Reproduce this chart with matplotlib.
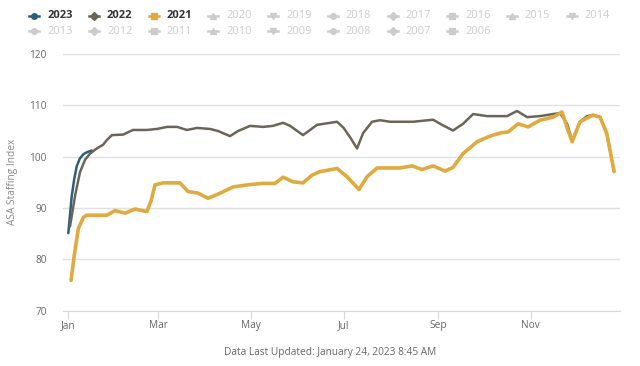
import matplotlib.pyplot as plt
from matplotlib.lines import Line2D

plt.rcParams["font.family"] = ["Open Sans", "DejaVu Sans"]

# day of year (0 = Jan 1) and ASA staffing index
dias_2023 = [0, 2.2, 3.8, 5.5, 7.5, 10, 12.5, 15.4]
valores_2023 = [85.1, 92.2, 95.5, 98.1, 99.6, 100.5, 100.9, 101.2]

dias_2022 = [1.1, 4.5, 7.7, 11, 14.3, 18.7, 22.8, 25.5, 28.7, 36, 42.5, 51.7, 58.3, 64.9,
             71.5, 78, 84.6, 93.2, 98.4, 106.3, 111.6, 119.5, 128, 134.6, 141.2, 145.8,
             154.3, 163.5, 176.7, 181, 185.2, 189.8, 193.8, 199.7, 204.9, 211.5, 226.6,
             239.8, 246.3, 252.9, 259.5, 266.1, 275.3, 288.4, 295, 301.6, 310.1, 318.7,
             323.3, 327.9, 331.2, 336.4, 341, 345, 349.6, 354, 358.8]
valores_2022 = [86.4, 92.5, 97.0, 99.4, 100.6, 101.6, 102.3, 103.3, 104.2, 104.3, 105.2,
                105.2, 105.4, 105.8, 105.8, 105.2, 105.6, 105.4, 105.0, 104.0, 105.0, 106.0,
                105.8, 106.0, 106.6, 106.0, 104.2, 106.2, 106.8, 105.6, 103.8, 101.6, 104.6,
                106.8, 107.1, 106.8, 106.8, 107.2, 106.1, 105.1, 106.4, 108.3, 107.9, 107.9,
                108.9, 107.7, 107.9, 108.3, 108.5, 106.4, 103.1, 106.8, 107.9, 108.1, 107.7,
                104.5, 97.1]

dias_2021 = [1.8, 4, 6.6, 9.9, 12.1, 20.8, 25.4, 30.7, 37.3, 43.9, 51.7, 54.5, 57, 62.3,
             73.4, 78.7, 85.3, 91.8, 98.4, 108.3, 117.5, 128, 135.9, 141.2, 147.7, 154.3,
             160.2, 165.5, 176.7, 183.2, 191.1, 196.4, 203, 218.1, 226, 232.5, 239.8,
             247.7, 252.9, 259.5, 268.7, 277.2, 285.1, 289.1, 295.7, 302.3, 310.1, 318.7,
             324.6, 328, 331.2, 336.4, 345, 349.6, 354, 358.8]
valores_2021 = [75.9, 81.0, 86.0, 88.2, 88.6, 88.6, 88.6, 89.5, 89.0, 89.8, 89.3, 91.5, 94.5,
                94.9, 94.9, 93.2, 92.9, 91.9, 92.7, 94.1, 94.5, 94.8, 94.8, 96.0, 95.1, 94.9,
                96.4, 97.1, 97.7, 96.1, 93.6, 96.1, 97.8, 97.8, 98.2, 97.5, 98.2, 97.2, 97.9,
                100.6, 102.9, 104.0, 104.7, 104.8, 106.4, 105.8, 107.1, 107.7, 108.7, 105.5,
                102.9, 106.8, 108.1, 107.7, 104.5, 97.1]

meses = ["Jan", "Mar", "May", "Jul", "Sep", "Nov"]
dias_meses = [0, 59, 120, 181, 243, 304]

anos_legenda = ["2023", "2022", "2021", "2020", "2019", "2018", "2017", "2016", "2015",
                "2014", "2013", "2012", "2011", "2010", "2009", "2008", "2007", "2006"]

cor_2023 = "#2c5f7c"
cor_2022 = "#6b6459"
cor_2021 = "#e0aa3e"
cor_oculta = "#cccccc"

fig = plt.figure(figsize=(6.4, 3.66), dpi=100)
ax = fig.add_axes([0.0989, 0.1511, 0.8699, 0.7014])

ax.plot(dias_2023, valores_2023, color=cor_2023, lw=1.8, solid_capstyle="round",
        solid_joinstyle="round", zorder=3)
ax.plot(dias_2022, valores_2022, color=cor_2022, lw=1.8, solid_capstyle="round",
        solid_joinstyle="round", zorder=4)
ax.plot(dias_2021, valores_2021, color=cor_2021, lw=2.6, solid_capstyle="round",
        solid_joinstyle="round", zorder=5)

ax.set_xlim(-3.3, 362.7)
ax.set_ylim(70, 120)
ax.set_yticks([70, 80, 90, 100, 110, 120])
ax.set_xticks(dias_meses)
ax.set_xticklabels(meses)
ax.grid(axis="y", color="#e0e0e0", lw=1)
ax.set_axisbelow(True)
for lado in ["top", "right", "left"]:
    ax.spines[lado].set_visible(False)
ax.spines["bottom"].set_color("#d8d8d8")
ax.tick_params(axis="y", length=0, pad=12, labelsize=7.3, labelcolor="#666666")
ax.tick_params(axis="x", length=6, color="#d8d8d8", pad=1, labelsize=7.3, labelcolor="#666666")
ax.set_ylabel("ASA Staffing Index", fontsize=7.3, color="#888888", labelpad=8)

# legenda manual (duas linhas, como no original)
marcadores = ["o", "D", "s", "^", "v"]
for i, ano in enumerate(anos_legenda):
    linha, col = divmod(i, 10)
    x = (34.3 + 59.7 * col) / 640
    y = 1 - (15.5 if linha == 0 else 31) / 366
    if ano == "2023":
        cor, peso = cor_2023, "bold"
    elif ano == "2022":
        cor, peso = cor_2022, "bold"
    elif ano == "2021":
        cor, peso = cor_2021, "bold"
    else:
        cor, peso = cor_oculta, "normal"
    fig.add_artist(Line2D([x - 5 / 640, x + 5 / 640], [y, y], color=cor, lw=1.8,
                          transform=fig.transFigure))
    fig.add_artist(Line2D([x], [y], marker=marcadores[i % 5], color=cor, markersize=4,
                          transform=fig.transFigure))
    texto_cor = "#333333" if peso == "bold" else cor_oculta
    fig.text(x + 13 / 640, y, ano, fontsize=8, fontweight=peso, color=texto_cor,
             va="center", ha="left")

fig.text(330 / 640, 1 - 352 / 366, "Data Last Updated: January 24, 2023 8:45 AM",
         fontsize=7.3, color="#666666", ha="center", va="center")

fig.savefig("out.png", dpi=100)
